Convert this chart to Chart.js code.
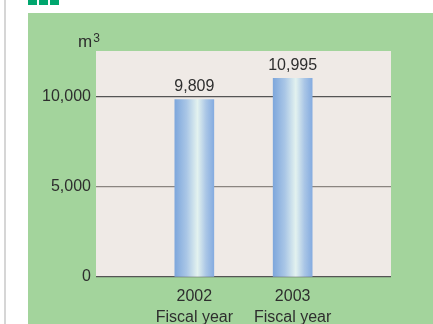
<!DOCTYPE html>
<html>
<head>
<meta charset="utf-8">
<script src="https://cdn.jsdelivr.net/npm/chart.js@4.4.0/dist/chart.umd.min.js"></script>
<style>
  html, body { margin: 0; padding: 0; background: #fff; }
  body { width: 433px; height: 324px; position: relative; overflow: hidden; }
  .rule { position: absolute; left: 4px; top: 0; width: 2px; height: 324px; background: #d6d6d6; }
  .sq { position: absolute; top: 0; width: 9px; height: 5px; background: #00a66e; }
  #panel { position: absolute; left: 28px; top: 13px; width: 405px; height: 311px; background: #a3d49c; }
</style>
</head>
<body>
<div class="rule"></div>
<div class="sq" style="left:28px"></div>
<div class="sq" style="left:39px"></div>
<div class="sq" style="left:50px"></div>
<div id="panel"><canvas id="waterChart" width="405" height="311"></canvas></div>
<script>
// Datos del gráfico
const categories = ["", ["2002", "Fiscal year"], ["2003", "Fiscal year"], ""];
const values = [null, 9809, 10995, null];
const yTicks = [0, 5000, 10000];
const unitLabel = "m";
const unitSup = "3";

const fontFamily = "'Liberation Sans', Arial, sans-serif";
const textColor = "#2e2e2e";

// Fondo beige del área de trazado + unidad
const plotBackground = {
    id: 'plotBackground',
    beforeDraw(chart) {
        const { ctx, chartArea } = chart;
        ctx.save();
        ctx.fillStyle = '#efeae6';
        ctx.fillRect(chartArea.left, chartArea.top, chartArea.right - chartArea.left, chartArea.bottom - chartArea.top);
        ctx.fillStyle = textColor;
        ctx.font = "17px " + fontFamily;
        ctx.textBaseline = 'alphabetic';
        ctx.fillText(unitLabel, 50, 34);
        const w = ctx.measureText(unitLabel).width;
        ctx.font = "12px " + fontFamily;
        ctx.fillText(unitSup, 50 + w + 1, 29);
        ctx.restore();
    }
};

// Etiquetas de valor encima de las barras
const valueLabels = {
    id: 'valueLabels',
    afterDatasetsDraw(chart) {
        const { ctx } = chart;
        const meta = chart.getDatasetMeta(0);
        ctx.save();
        ctx.fillStyle = textColor;
        ctx.font = "16px " + fontFamily;
        ctx.textAlign = 'center';
        ctx.textBaseline = 'bottom';
        meta.data.forEach((bar, i) => {
            if (values[i] == null) return;
            ctx.fillText(values[i].toLocaleString('en-US'), bar.x, bar.y - 5);
        });
        ctx.restore();
    }
};

function barGradient(context) {
    const chart = context.chart;
    if (!chart.chartArea) return '#8fb3e0';
    const x = chart.scales.x.getPixelForValue(context.dataIndex);
    const g = chart.ctx.createLinearGradient(x - 19.5, 0, x + 19.5, 0);
    g.addColorStop(0, '#7ea7dc');
    g.addColorStop(0.3, '#a9c6e6');
    g.addColorStop(0.58, '#e3f2ef');
    g.addColorStop(0.8, '#aac6e6');
    g.addColorStop(1, '#85ace0');
    return g;
}

const ctx = document.getElementById('waterChart').getContext('2d');
const waterChart = new Chart(ctx, {
    type: 'bar',
    data: {
        labels: categories,
        datasets: [{
            data: values,
            backgroundColor: barGradient,
            borderWidth: 0,
            barThickness: 39
        }]
    },
    options: {
        responsive: false,
        animation: false,
        layout: { padding: { top: 38, right: 42, left: 0, bottom: 0 } },
        plugins: { legend: { display: false }, tooltip: { enabled: false } },
        scales: {
            x: {
                offset: false,
                grid: { display: false },
                border: { display: false },
                ticks: {
                    color: textColor,
                    font: { family: fontFamily, size: 16, lineHeight: 1.3 },
                    padding: 1,
                    maxRotation: 0,
                    autoSkip: false
                },
                afterFit(scale) { scale.height = 47; }
            },
            y: {
                min: 0,
                max: 12500,
                afterBuildTicks(scale) { scale.ticks = yTicks.map(v => ({ value: v })); },
                grid: {
                    color: c => (c.tick && c.tick.value === 5000) ? '#8a8580' : '#555',
                    lineWidth: 1.3,
                    drawTicks: false
                },
                border: { display: false },
                ticks: {
                    color: textColor,
                    font: { family: fontFamily, size: 16 },
                    padding: 5,
                    callback: v => v.toLocaleString('en-US')
                },
                afterFit(scale) { scale.width = 68; }
            }
        }
    },
    plugins: [plotBackground, valueLabels]
});
</script>
</body>
</html>
